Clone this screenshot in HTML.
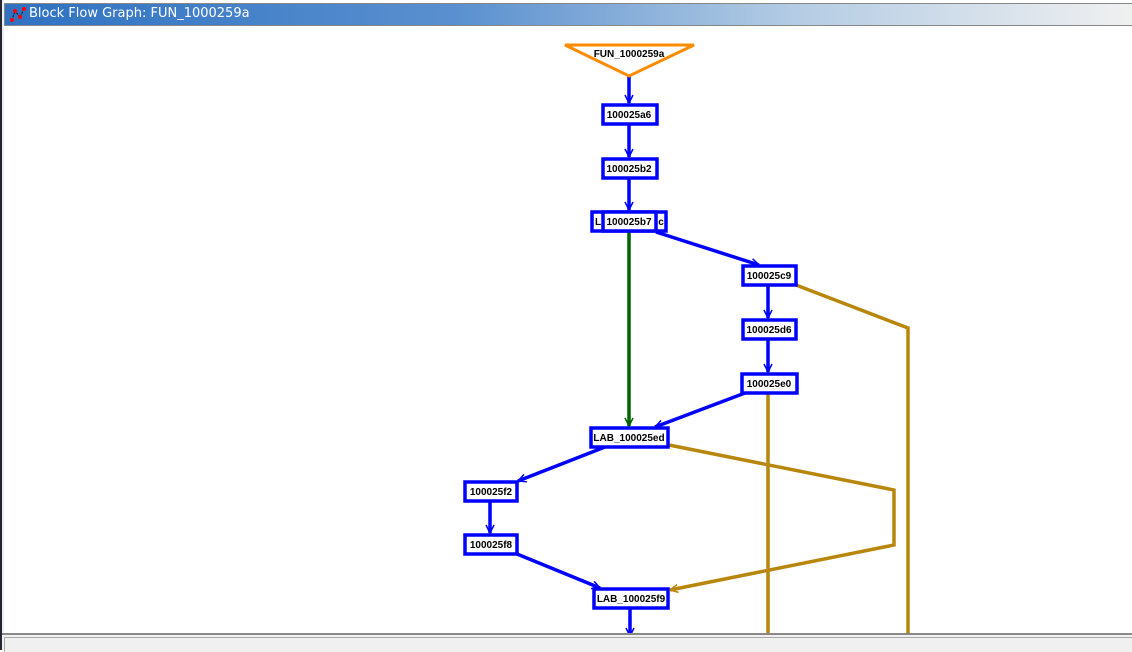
<!DOCTYPE html>
<html><head><style>
body{margin:0;width:1132px;height:650px;overflow:hidden;background:#fff;position:relative;font-family:"Liberation Sans",sans-serif}
#l{position:absolute;left:0;top:0;width:2px;height:650px;background:#232733}
#l2{position:absolute;left:2px;top:0;width:2px;height:650px;background:#eee}
#t{position:absolute;left:4px;top:3px;width:1128px;height:21px;border-top:1px solid #888;border-bottom:1px solid #888;border-left:1px solid #888;background:linear-gradient(to right,#2f72c2 0%,#5a90cf 40%,#b4cce4 70%,#f0f0f0 100%)}
#t span{position:absolute;left:24px;top:2px;color:#fff;font-size:13px;font-family:"DejaVu Sans",sans-serif}
#b{position:absolute;left:2px;top:633px;width:1130px;height:17px;background:#f0f0f0;border-top:2px solid #888}
#b div{position:absolute;left:2px;top:2px;right:0;bottom:0;border-top:1px solid #aaa;border-left:1px solid #aaa}
svg{position:absolute;left:0;top:0}
text{font-family:"Liberation Sans",sans-serif;font-size:10px;font-weight:bold;text-anchor:middle}
</style></head><body>
<div id="l"></div><div id="l2"></div>
<div id="t"><svg width="20" height="20" style="left:3px;top:1px"><polyline points="4,15 7,6 12,12 16,4" fill="none" stroke="#111" stroke-width="1" stroke-dasharray="2,1"/><circle cx="4" cy="15" r="2" fill="red"/><circle cx="7" cy="6" r="2" fill="red"/><circle cx="12" cy="12" r="2" fill="red"/><circle cx="16" cy="4" r="2" fill="red"/></svg><span>Block Flow Graph: FUN_1000259a</span></div>
<svg width="1132" height="633">
<defs>
<marker id="ab" markerWidth="10" markerHeight="10" refX="9" refY="5" orient="auto" markerUnits="userSpaceOnUse"><path d="M1,1 L9,5 L1,9" fill="none" stroke="#0000ff" stroke-width="1.5"/></marker>
<marker id="ag" markerWidth="10" markerHeight="10" refX="9" refY="5" orient="auto" markerUnits="userSpaceOnUse"><path d="M1,1 L9,5 L1,9" fill="none" stroke="#006400" stroke-width="1.5"/></marker>
<marker id="ao" markerWidth="10" markerHeight="10" refX="9" refY="5" orient="auto" markerUnits="userSpaceOnUse"><path d="M1,1 L9,5 L1,9" fill="none" stroke="#b8860b" stroke-width="1.5"/></marker>
</defs>
<g fill="none" stroke-width="3.5">
<polyline points="796,285 908,328 908,640" stroke="#b8860b"/>
<line x1="768" y1="393" x2="768" y2="640" stroke="#b8860b"/>
<polyline points="669,445 894,490 894,545 670,590" stroke="#b8860b" marker-end="url(#ao)"/>
<line x1="629" y1="231" x2="629" y2="426" stroke="#006400" marker-end="url(#ag)"/>
<g stroke="#0000ff" marker-end="url(#ab)">
<line x1="629" y1="76" x2="629" y2="103"/>
<line x1="629" y1="124" x2="629" y2="157"/>
<line x1="629" y1="178" x2="629" y2="210"/>
<line x1="656" y1="232" x2="759" y2="265"/>
<line x1="768" y1="285" x2="768" y2="318"/>
<line x1="768" y1="339" x2="768" y2="372"/>
<line x1="745" y1="393" x2="655" y2="427"/>
<line x1="605" y1="447" x2="518" y2="481"/>
<line x1="490" y1="501" x2="490" y2="533"/>
<line x1="517" y1="554" x2="600" y2="588"/>
<line x1="630" y1="608" x2="630" y2="636"/>
</g>
</g>
<polygon points="565,45 694,45 629,76" fill="#fff" stroke="#ff8c00" stroke-width="3"/>
<text x="629" y="57">FUN_1000259a</text>
<g fill="#fff" stroke="#0000ff" stroke-width="3.5">
<rect x="603" y="105" width="54" height="19"/>
<rect x="603" y="159" width="54" height="19"/>
<rect x="592" y="212" width="74" height="19"/>
<rect x="603" y="212" width="53" height="19"/>
<rect x="743" y="266" width="53" height="19"/>
<rect x="743" y="320" width="53" height="19"/>
<rect x="742" y="374" width="55" height="19"/>
<rect x="591" y="428" width="77" height="19"/>
<rect x="465" y="482" width="52" height="19"/>
<rect x="465" y="535" width="52" height="19"/>
<rect x="594" y="589" width="74" height="19"/>
</g>
<text x="598" y="225">L</text><text x="661" y="225">c</text>
<text x="629" y="118">100025a6</text>
<text x="629" y="172">100025b2</text>
<text x="629" y="225">100025b7</text>
<text x="769" y="279">100025c9</text>
<text x="769" y="333">100025d6</text>
<text x="769" y="387">100025e0</text>
<text x="629" y="441">LAB_100025ed</text>
<text x="491" y="495">100025f2</text>
<text x="491" y="548">100025f8</text>
<text x="631" y="602">LAB_100025f9</text>
</svg>
<div id="b"><div></div></div>
</body></html>
